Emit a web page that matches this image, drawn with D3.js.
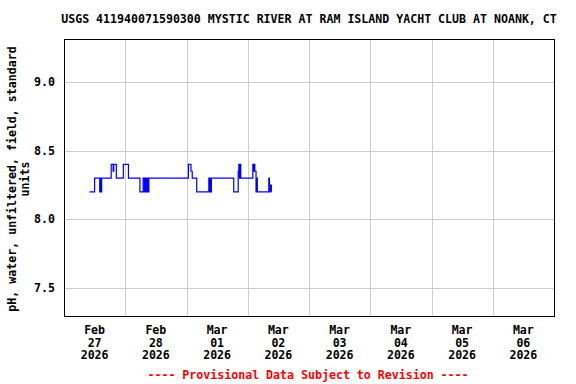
<!DOCTYPE html>
<html>
<head>
<meta charset="utf-8">
<script src="https://cdn.jsdelivr.net/npm/d3@7"></script>
<style>
html,body{margin:0;padding:0;background:#fff;}
svg{display:block;}
text{font-family:"DejaVu Sans Mono",monospace;font-weight:bold;}
</style>
</head>
<body>
<svg id="chart" width="576" height="384"></svg>
<script>
const title = "USGS 411940071590300 MYSTIC RIVER AT RAM ISLAND YACHT CLUB AT NOANK, CT";
const yTitleLines = ["pH, water, unfiltered, field, standard", "units"];
const footer = "---- Provisional Data Subject to Revision ----";

const dayLabels = [["Feb","27","2026"],["Feb","28","2026"],["Mar","01","2026"],["Mar","02","2026"],
                   ["Mar","03","2026"],["Mar","04","2026"],["Mar","05","2026"],["Mar","06","2026"]];
const dayDates = ["2026-02-27","2026-02-28","2026-03-01","2026-03-02","2026-03-03","2026-03-04","2026-03-05","2026-03-06"];
const yTicks = [7.5, 8.0, 8.5, 9.0];

// step readings (time, pH)
const times = [
 "2026-02-27 10:00","2026-02-27 12:00","2026-02-27 14:00","2026-02-27 14:15","2026-02-27 14:30","2026-02-27 14:45",
 "2026-02-27 18:30","2026-02-27 19:15","2026-02-27 19:30","2026-02-27 20:30","2026-02-27 23:15",
 "2026-02-28 01:15","2026-02-28 05:45","2026-02-28 07:00","2026-02-28 07:30","2026-02-28 07:45","2026-02-28 08:00",
 "2026-02-28 08:15","2026-02-28 08:30","2026-02-28 08:45","2026-02-28 09:00","2026-02-28 09:15",
 "2026-03-01 00:45","2026-03-01 01:45","2026-03-01 02:15","2026-03-01 04:00",
 "2026-03-01 08:45","2026-03-01 09:00","2026-03-01 09:15","2026-03-01 09:30","2026-03-01 09:45","2026-03-01 10:00",
 "2026-03-01 18:30","2026-03-01 20:15","2026-03-01 20:30","2026-03-01 20:45","2026-03-01 21:00","2026-03-01 21:15",
 "2026-03-02 02:00","2026-03-02 02:15","2026-03-02 02:30","2026-03-02 02:45","2026-03-02 03:15","2026-03-02 03:30","2026-03-02 03:45",
 "2026-03-02 08:15","2026-03-02 08:30","2026-03-02 08:45","2026-03-02 09:00","2026-03-02 09:15"
];
const values = [
 8.2,8.3,8.2,8.3,8.2,8.3,
 8.4,8.35,8.4,8.3,8.4,
 8.3,8.2,8.3,8.2,8.3,8.2,
 8.3,8.2,8.3,8.2,8.3,
 8.4,8.35,8.3,8.2,
 8.3,8.2,8.3,8.2,8.3,8.3,
 8.2,8.35,8.4,8.3,8.4,8.3,
 8.4,8.35,8.4,8.35,8.2,8.3,8.2,
 8.3,8.25,8.2,8.25,8.2
];

const parse = d3.utcParse("%Y-%m-%d %H:%M");
const parseDay = d3.utcParse("%Y-%m-%d");
const data = times.map((t,i)=>({t:parse(t), v:values[i]}));

const svg = d3.select("#chart");
const L=64, R=554, T=39, B=316;

const x = d3.scaleUtc().domain([parseDay("2026-02-27"), parseDay("2026-03-07")]).range([L,R]);
const y = d3.scaleLinear().domain([7.296, 9.313]).range([B,T]);

// vertical gridlines at midnight
const midnights = d3.utcDay.range(parseDay("2026-02-28"), parseDay("2026-03-07"));
svg.append("g").selectAll("line").data(midnights).join("line")
  .attr("x1",d=>Math.round(x(d))+0.5).attr("x2",d=>Math.round(x(d))+0.5)
  .attr("y1",T).attr("y2",B)
  .attr("stroke","#cccccc").attr("stroke-width",1);

// horizontal gridlines
svg.append("g").selectAll("line").data(yTicks).join("line")
  .attr("x1",L).attr("x2",R)
  .attr("y1",d=>Math.round(y(d))+0.5).attr("y2",d=>Math.round(y(d))+0.5)
  .attr("stroke","#cccccc").attr("stroke-width",1);

// data line
const line = d3.line().x(d=>x(d.t)).y(d=>y(d.v)).curve(d3.curveStepAfter);
svg.append("path").datum(data).attr("d",line)
  .attr("fill","none").attr("stroke","#0000ff").attr("stroke-width",1.2);

// frame
svg.append("rect").attr("x",L+0.5).attr("y",T+0.5).attr("width",R-L).attr("height",B-T)
  .attr("fill","none").attr("stroke","#000").attr("stroke-width",1);

// y tick labels
svg.append("g").selectAll("text").data(yTicks).join("text")
  .attr("x",55).attr("y",d=>y(d)+4)
  .attr("text-anchor","end").attr("font-size","11.6px")
  .text(d=>d3.format(".1f")(d));

// x tick labels at noon
const noon = dayDates.map(d=>d3.utcHour.offset(parseDay(d),12));
const xg = svg.append("g");
noon.forEach((d,i)=>{
  const t = xg.append("text").attr("text-anchor","middle").attr("font-size","11.6px");
  dayLabels[i].forEach((s,j)=>{
    t.append("tspan").attr("x",x(d)).attr("y",334+j*12.7).text(s);
  });
});

// title
svg.append("text").attr("x",(L+R)/2+0).attr("y",23).attr("text-anchor","middle")
  .attr("font-size","11.6px").text(title);

// y axis title
svg.append("text").attr("transform","translate(16,179) rotate(-90)")
  .attr("text-anchor","middle").attr("font-size","11.6px").text(yTitleLines[0]);
svg.append("text").attr("transform","translate(28.5,179) rotate(-90)")
  .attr("text-anchor","middle").attr("font-size","11.6px").text(yTitleLines[1]);

// footer
svg.append("text").attr("x",308).attr("y",379).attr("text-anchor","middle")
  .attr("font-size","11.6px").attr("fill","#ff0000").text(footer);
</script>
</body>
</html>
